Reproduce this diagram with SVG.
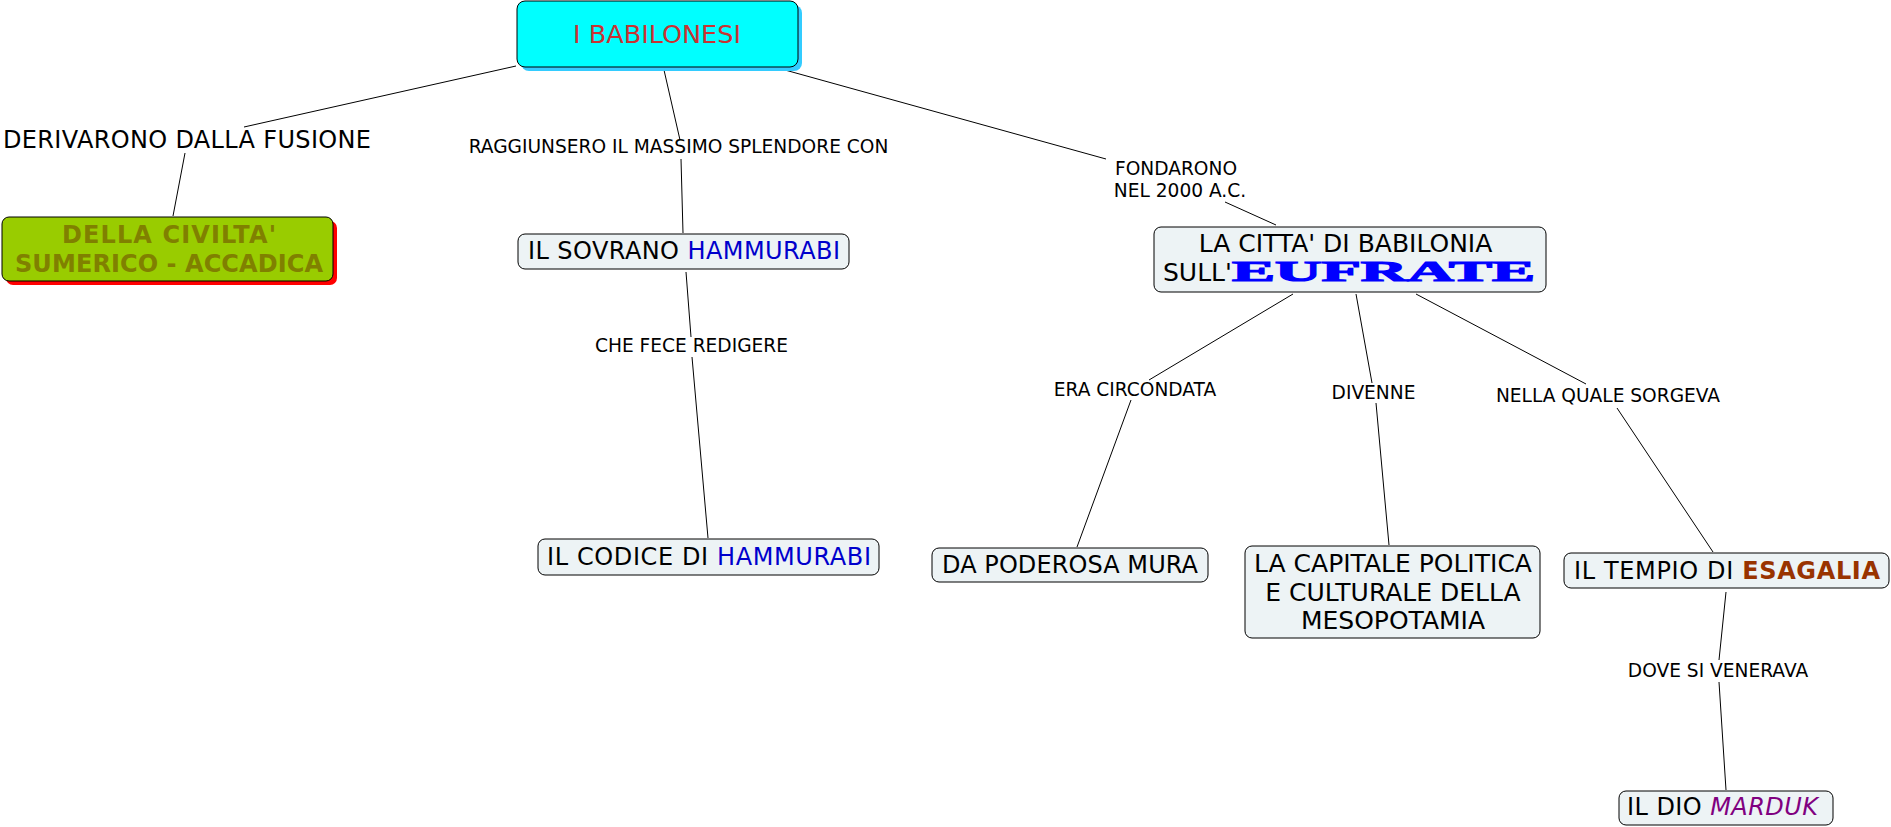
<svg xmlns="http://www.w3.org/2000/svg" width="1891" height="827" viewBox="0 0 1891 827">
<style>
text{font-family:"DejaVu Sans","Liberation Sans",sans-serif;fill:#000}
.lbl{font-size:18.6px}
.big{font-size:24px}
.big25{font-size:25px}
.node{fill:#edf3f5;stroke:#000;stroke-width:1}
.conn line{stroke:#000;stroke-width:1}
.blue{fill:#0000cc}
</style>
<rect width="1891" height="827" fill="#fff"/>
<g class="conn">
<line x1="516" y1="66" x2="244" y2="127"/>
<line x1="185" y1="153" x2="173" y2="216"/>
<line x1="664" y1="70" x2="680" y2="140"/>
<line x1="681" y1="159" x2="683" y2="233"/>
<line x1="686" y1="272" x2="691" y2="337"/>
<line x1="692" y1="357" x2="708" y2="538"/>
<line x1="785" y1="70" x2="1106" y2="159"/>
<line x1="1225" y1="202" x2="1276" y2="225"/>
<line x1="1293" y1="294" x2="1149" y2="380"/>
<line x1="1131" y1="400" x2="1077" y2="547"/>
<line x1="1356" y1="294" x2="1372" y2="383"/>
<line x1="1376" y1="403" x2="1389" y2="545"/>
<line x1="1416" y1="294" x2="1586" y2="384"/>
<line x1="1617" y1="408" x2="1713" y2="552"/>
<line x1="1726" y1="592" x2="1719" y2="660"/>
<line x1="1719" y1="682" x2="1726" y2="790"/>
</g>
<g id="labels">
<text class="big" x="3" y="148" textLength="368">DERIVARONO DALLA FUSIONE</text>
<text class="lbl" x="678.5" y="153" text-anchor="middle">RAGGIUNSERO IL MASSIMO SPLENDORE CON</text>
<text class="lbl" x="691.5" y="352" text-anchor="middle">CHE FECE REDIGERE</text>
<text class="lbl" x="1176" y="175" text-anchor="middle">FONDARONO</text>
<text class="lbl" x="1180" y="197" text-anchor="middle">NEL 2000 A.C.</text>
<text class="lbl" x="1135" y="396" text-anchor="middle">ERA CIRCONDATA</text>
<text class="lbl" x="1373.5" y="399" text-anchor="middle">DIVENNE</text>
<text class="lbl" x="1608" y="402" text-anchor="middle">NELLA QUALE SORGEVA</text>
<text class="lbl" x="1718" y="677" text-anchor="middle">DOVE SI VENERAVA</text>
</g>
<g id="root">
<rect x="521" y="5" width="281" height="66" rx="8" fill="#33ccff"/>
<rect x="517" y="1" width="281" height="66" rx="8" fill="#00ffff" stroke="#000"/>
<text x="657" y="43" text-anchor="middle" style="font-size:25.5px;fill:#c83232">I BABILONESI</text>
</g>
<g id="sumerica">
<rect x="6" y="221" width="331" height="64" rx="7" fill="#ff0000"/>
<rect x="2" y="217" width="331" height="64" rx="7" fill="#99cc00" stroke="#000"/>
<text x="62" y="243" textLength="214" style="font-size:24px;font-weight:bold;fill:#808000">DELLA CIVILTA'</text>
<text x="15" y="272" textLength="308" style="font-size:24px;font-weight:bold;fill:#808000">SUMERICO - ACCADICA</text>
</g>
<g id="sovrano">
<rect class="node" x="518" y="234" width="331" height="35" rx="7"/>
<text class="big" x="528" y="259" textLength="312">IL SOVRANO <tspan class="blue">HAMMURABI</tspan></text>
</g>
<g id="codice">
<rect class="node" x="538" y="539" width="341" height="36" rx="7"/>
<text class="big" x="547" y="565" textLength="324">IL CODICE DI <tspan class="blue">HAMMURABI</tspan></text>
</g>
<g id="babilonia">
<rect class="node" x="1154" y="227" width="392" height="65" rx="7"/>
<text class="big25" x="1345.5" y="252" text-anchor="middle">LA CITTA' DI BABILONIA</text>
<text class="big25" x="1163" y="281">SULL'</text>
<text x="1232" y="281" textLength="303" lengthAdjust="spacingAndGlyphs" style="font-family:'Liberation Serif','DejaVu Serif',serif;font-weight:900;font-size:29px;fill:#0000ff;stroke:#0000ff;stroke-width:1.2">EUFRATE</text>
</g>
<g id="mura">
<rect class="node" x="932" y="548" width="276" height="34" rx="7"/>
<text class="big" x="942" y="573" textLength="256">DA PODEROSA MURA</text>
</g>
<g id="capitale">
<rect class="node" x="1245" y="546" width="295" height="92" rx="7"/>
<text class="big25" x="1393" y="572" text-anchor="middle">LA CAPITALE POLITICA</text>
<text class="big25" x="1393" y="601" text-anchor="middle">E CULTURALE DELLA</text>
<text class="big25" x="1393" y="629" text-anchor="middle">MESOPOTAMIA</text>
</g>
<g id="tempio">
<rect class="node" x="1564" y="553" width="325" height="35" rx="7"/>
<text class="big" x="1574" y="579" textLength="306">IL TEMPIO DI <tspan style="fill:#993300;font-weight:bold">ESAGALIA</tspan></text>
</g>
<g id="marduk">
<rect class="node" x="1619" y="791" width="214" height="34" rx="7"/>
<text class="big" x="1627" y="815" textLength="191">IL DIO <tspan style="fill:#800080;font-style:italic">MARDUK</tspan></text>
</g>
</svg>
